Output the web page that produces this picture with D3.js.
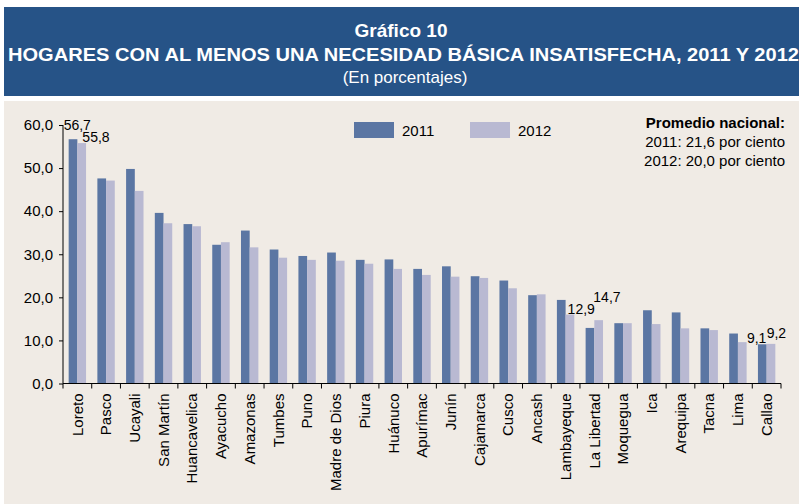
<!DOCTYPE html>
<html>
<head>
<meta charset="utf-8">
<script src="https://cdn.jsdelivr.net/npm/d3@7"></script>
<style>
  body { margin: 0; background: #fff; }
  svg { display: block; font-family: "Liberation Sans", Arial, sans-serif; }
  .axis path, .axis line { stroke: #000; }
  .axis text { font-size: 15px; fill: #000; }
</style>
</head>
<body>
<script>
// regions, ordered as in the chart
var regions = ["Loreto", "Pasco", "Ucayali", "San Martín", "Huancavelica", "Ayacucho",
  "Amazonas", "Tumbes", "Puno", "Madre de Dios", "Piura", "Huánuco", "Apurímac",
  "Junín", "Cajamarca", "Cusco", "Ancash", "Lambayeque", "La Libertad", "Moquegua",
  "Ica", "Arequipa", "Tacna", "Lima", "Callao"];
var years = ["2011", "2012"];
var values2011 = [56.7, 47.6, 49.8, 39.6, 37.0, 32.2, 35.5, 31.1, 29.6, 30.4, 28.7, 28.8, 26.6,
  27.2, 24.9, 23.9, 20.5, 19.4, 12.9, 14.0, 17.0, 16.5, 12.8, 11.6, 9.1];
var values2012 = [55.8, 47.1, 44.7, 37.2, 36.5, 32.8, 31.6, 29.2, 28.7, 28.5, 27.8, 26.6, 25.2,
  24.8, 24.5, 22.1, 20.7, 16.0, 14.7, 14.0, 13.8, 12.8, 12.4, 9.6, 9.2];
var yTicks = [0, 10, 20, 30, 40, 50, 60];
var promedio = ["2011: 21,6 por ciento", "2012: 20,0 por ciento"];

var colors = {"2011": "#5b76a3", "2012": "#b9b9d2"};
var fmt = function (v) { return d3.format(".1f")(v).replace(".", ","); };

var width = 799, height = 504;
var svg = d3.select("body").append("svg")
	.attr("width", width)
	.attr("height", height);

// header band
svg.append("rect").attr("x", 4).attr("y", 7).attr("width", width - 4).attr("height", 89)
	.style("fill", "#265387");
svg.append("text").attr("x", 401).attr("y", 37).attr("text-anchor", "middle")
	.style("font-size", "19px").style("font-weight", "bold").style("fill", "#fff")
	.text("Gráfico 10");
svg.append("text").attr("x", 8).attr("y", 61)
	.attr("textLength", 791).attr("lengthAdjust", "spacingAndGlyphs")
	.style("font-size", "19px").style("font-weight", "bold").style("fill", "#fff")
	.text("HOGARES CON AL MENOS UNA NECESIDAD BÁSICA INSATISFECHA, 2011 Y 2012");
svg.append("text").attr("x", 405).attr("y", 83).attr("text-anchor", "middle")
	.style("font-size", "17px").style("fill", "#fff")
	.text("(En porcentajes)");

// plot background
svg.append("rect").attr("x", 4).attr("y", 101).attr("width", width - 4).attr("height", height - 101)
	.style("fill", "#f0ebe5");

var x0 = d3.scaleBand().domain(regions).range([63, 781]);
var x1 = d3.scaleBand().domain(years).range([0, x0.bandwidth()]).paddingOuter(0.65);
var y = d3.scaleLinear().domain([0, 60]).range([383.5, 125]);

var rows = regions.map(function (r, i) {
	return {region: r, "2011": values2011[i], "2012": values2012[i]};
});

var groups = svg.selectAll(".grp")
	.data(rows).enter().append("g")
		.attr("class", "grp")
		.attr("transform", function (d) { return "translate(" + x0(d.region) + ",0)"; });

groups.selectAll("rect")
	.data(function (d) { return years.map(function (k) { return {key: k, value: d[k]}; }); })
	.enter().append("rect")
		.attr("x", function (d) { return x1(d.key); })
		.attr("width", x1.bandwidth())
		.attr("y", function (d) { return y(d.value); })
		.attr("height", function (d) { return y(0) - y(d.value); })
		.style("fill", function (d) { return colors[d.key]; });

// y axis
var yAxis = svg.append("g").attr("class", "axis")
	.attr("transform", "translate(63,0)")
	.call(d3.axisLeft(y).tickValues(yTicks).tickSize(4).tickPadding(6).tickFormat(fmt));
yAxis.select(".domain").attr("d", "M0," + y(60) + "V" + y(0));

// x axis: line + ticks at category boundaries
var xAxis = svg.append("g").attr("class", "axis");
xAxis.append("line").attr("x1", 63).attr("x2", 781).attr("y1", y(0)).attr("y2", y(0))
	.style("stroke", "#000");
xAxis.selectAll(".xt")
	.data(regions.concat([null])).enter().append("line")
		.attr("class", "xt")
		.attr("x1", function (d) { return d === null ? x0.range()[1] : x0(d); })
		.attr("x2", function (d) { return d === null ? x0.range()[1] : x0(d); })
		.attr("y1", y(0)).attr("y2", y(0) + 5)
		.style("stroke", "#000");
xAxis.selectAll(".xl")
	.data(regions).enter().append("text")
		.attr("class", "xl")
		.attr("text-anchor", "end")
		.attr("dy", "0.35em")
		.attr("transform", function (d) {
			return "translate(" + (x0(d) + x0.bandwidth() / 2) + "," + (y(0) + 10) + ") rotate(-90)";
		})
		.text(function (d) { return d; });

// data labels
var labels = [
	{region: "Loreto", key: "2011", dx: -5, dy: -9},
	{region: "Loreto", key: "2012", dx: 5, dy: -1},
	{region: "La Libertad", key: "2011", dx: -18, dy: -14},
	{region: "La Libertad", key: "2012", dx: -1, dy: -18},
	{region: "Callao", key: "2011", dx: -11, dy: -1},
	{region: "Callao", key: "2012", dx: 0, dy: -6}
];
svg.selectAll(".dl")
	.data(labels).enter().append("text")
		.attr("class", "dl")
		.style("font-size", "14px")
		.attr("x", function (d) { return x0(d.region) + x1(d.key) + d.dx; })
		.attr("y", function (d) {
			var v = (d.key === "2011" ? values2011 : values2012)[regions.indexOf(d.region)];
			return y(v) + d.dy;
		})
		.text(function (d) {
			return fmt((d.key === "2011" ? values2011 : values2012)[regions.indexOf(d.region)]);
		});

// legend
var legend = svg.selectAll(".lg")
	.data(years).enter().append("g")
		.attr("class", "lg")
		.attr("transform", function (d, i) { return "translate(" + (354 + i * 116) + ",122)"; });
legend.append("rect").attr("width", 40).attr("height", 16)
	.style("fill", function (d) { return colors[d]; });
legend.append("text").attr("x", 48).attr("y", 14).style("font-size", "15px")
	.text(function (d) { return d; });

// national average note
svg.append("text").attr("x", 785).attr("y", 128).attr("text-anchor", "end")
	.style("font-size", "15px").style("font-weight", "bold")
	.text("Promedio nacional:");
svg.selectAll(".pn")
	.data(promedio).enter().append("text")
		.attr("class", "pn")
		.attr("x", 785)
		.attr("y", function (d, i) { return 147 + i * 19; })
		.attr("text-anchor", "end")
		.style("font-size", "15px")
		.text(function (d) { return d; });
</script>
</body>
</html>
